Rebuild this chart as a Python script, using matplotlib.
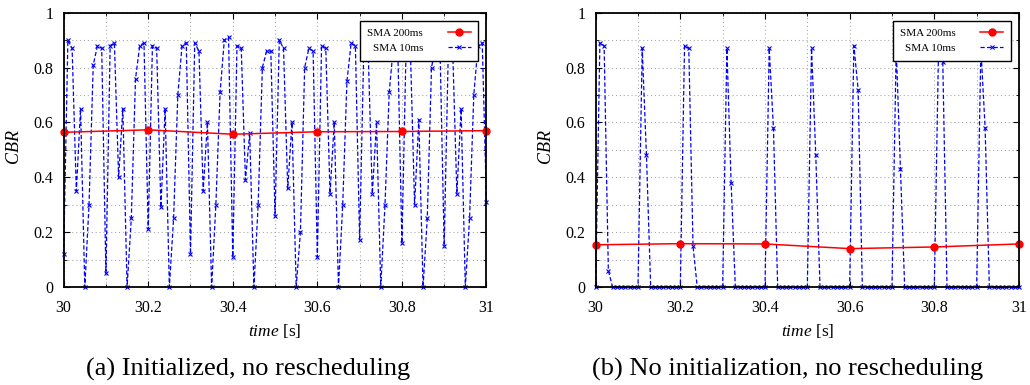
"""CBR over one second: SMA 200ms vs SMA 10ms, two scheduling setups."""
import numpy as np
import matplotlib
matplotlib.use('Agg')
import matplotlib.pyplot as plt
from matplotlib.ticker import MultipleLocator

plt.rcParams['font.family'] = ['Liberation Serif', 'DejaVu Serif']
plt.rcParams['mathtext.fontset'] = 'custom'
plt.rcParams['mathtext.it'] = 'Liberation Serif:italic'
plt.rcParams['mathtext.rm'] = 'Liberation Serif'

# 10 ms sampling grid, 30 s .. 31 s
time_10ms = np.linspace(30.0, 31.0, 101)
time_200ms = [30.0, 30.2, 30.4, 30.6, 30.8, 31.0]

# (a) Initialized, no rescheduling
cbr_10ms_a = [
    0.12, 0.90, 0.87, 0.35, 0.65, 0.00, 0.30, 0.81, 0.88, 0.87,
    0.05, 0.88, 0.89, 0.40, 0.65, 0.00, 0.25, 0.76, 0.88, 0.89,
    0.21, 0.88, 0.87, 0.29, 0.65, 0.00, 0.25, 0.70, 0.88, 0.89,
    0.12, 0.89, 0.86, 0.35, 0.60, 0.00, 0.30, 0.71, 0.90, 0.91,
    0.11, 0.88, 0.87, 0.39, 0.56, 0.00, 0.30, 0.80, 0.86, 0.86,
    0.26, 0.90, 0.87, 0.36, 0.60, 0.00, 0.20, 0.80, 0.87, 0.86,
    0.11, 0.88, 0.87, 0.34, 0.60, 0.00, 0.30, 0.75, 0.89, 0.88,
    0.17, 0.88, 0.87, 0.34, 0.60, 0.00, 0.30, 0.71, 0.88, 0.89,
    0.16, 0.88, 0.87, 0.30, 0.61, 0.00, 0.25, 0.80, 0.88, 0.88,
    0.15, 0.88, 0.87, 0.34, 0.65, 0.00, 0.25, 0.70, 0.88, 0.89,
    0.31,
]
cbr_200ms_a = [0.564, 0.573, 0.557, 0.566, 0.567, 0.570]

# (b) No initialization, no rescheduling
cbr_10ms_b = [
    0.00, 0.89, 0.88, 0.06, 0.00, 0.00, 0.00, 0.00, 0.00, 0.00,
    0.00, 0.87, 0.48, 0.00, 0.00, 0.00, 0.00, 0.00, 0.00, 0.00,
    0.00, 0.88, 0.87, 0.15, 0.00, 0.00, 0.00, 0.00, 0.00, 0.00,
    0.00, 0.87, 0.38, 0.00, 0.00, 0.00, 0.00, 0.00, 0.00, 0.00,
    0.00, 0.87, 0.58, 0.00, 0.00, 0.00, 0.00, 0.00, 0.00, 0.00,
    0.00, 0.87, 0.48, 0.00, 0.00, 0.00, 0.00, 0.00, 0.00, 0.00,
    0.00, 0.88, 0.72, 0.00, 0.00, 0.00, 0.00, 0.00, 0.00, 0.00,
    0.00, 0.87, 0.43, 0.00, 0.00, 0.00, 0.00, 0.00, 0.00, 0.00,
    0.00, 0.87, 0.82, 0.00, 0.00, 0.00, 0.00, 0.00, 0.00, 0.00,
    0.00, 0.87, 0.58, 0.00, 0.00, 0.00, 0.00, 0.00, 0.00, 0.00,
    0.00,
]
cbr_200ms_b = [0.154, 0.158, 0.157, 0.140, 0.146, 0.157]

captions = ['(a) Initialized, no rescheduling',
            '(b) No initialization, no rescheduling']
x_ticks = [30, 30.2, 30.4, 30.6, 30.8, 31]
x_tick_labels = ['30', '30.2', '30.4', '30.6', '30.8', '31']
y_ticks = [0, 0.2, 0.4, 0.6, 0.8, 1]
y_tick_labels = ['0', '0.2', '0.4', '0.6', '0.8', '1']


def draw(ax, cbr_10ms, cbr_200ms):
    ax.plot(time_200ms, cbr_200ms, color='red', lw=1.1, marker='o',
            ms=5, label='SMA 200ms', zorder=4, clip_on=False)
    ax.plot(time_10ms, cbr_10ms, color='blue', lw=0.9, ls=(0, (3.4, 1.8)),
            marker='x', ms=3, mew=0.8, label='SMA 10ms', zorder=3,
            clip_on=False)

    ax.set_xlim(30, 31)
    ax.set_ylim(0, 1)
    ax.set_xticks(x_ticks)
    ax.set_xticklabels(x_tick_labels)
    ax.set_yticks(y_ticks)
    ax.set_yticklabels(y_tick_labels)
    ax.xaxis.set_minor_locator(MultipleLocator(0.1))
    ax.yaxis.set_minor_locator(MultipleLocator(0.1))
    ax.grid(True, which='both', color='#aaaaaa', ls=(0, (1, 2.5)), lw=0.8)
    ax.tick_params(which='both', direction='in', top=True, right=True,
                   labelsize=11.5)
    ax.tick_params(axis='x', pad=9)
    ax.tick_params(axis='y', pad=7.5)
    ax.tick_params(which='major', length=4)
    ax.tick_params(which='minor', length=2.5)
    for sp in ax.spines.values():
        sp.set_linewidth(1.3)
        sp.set_zorder(5)

    ax.set_xlabel(r'$time$ [s]', fontsize=12.5, va='center')
    ax.xaxis.set_label_coords(0.5, -0.16)
    ax.set_ylabel(r'$CBR$', fontsize=13, va='center')
    ax.yaxis.set_label_coords(-0.117, 0.51)

    leg = ax.legend(loc='upper right', markerfirst=False, fontsize=8,
                    fancybox=False, framealpha=1, edgecolor='black',
                    borderpad=0.65, handlelength=2.1, handletextpad=2.2,
                    labelspacing=0.5, borderaxespad=0.75)
    leg.get_frame().set_linewidth(1.0)
    leg.set_zorder(6)


fig = plt.figure(figsize=(10.3, 3.85), dpi=100)
ax1 = fig.add_axes([0.0618, 0.2545, 0.4105, 0.7125])
ax2 = fig.add_axes([0.5783, 0.2545, 0.411, 0.7125])

draw(ax1, cbr_10ms_a, cbr_200ms_a)
draw(ax2, cbr_10ms_b, cbr_200ms_b)

fig.text(0.241, 0.024, captions[0], ha='center', va='baseline', fontsize=19)
fig.text(0.7645, 0.024, captions[1], ha='center', va='baseline', fontsize=19)

fig.savefig('out.png', dpi=100)
